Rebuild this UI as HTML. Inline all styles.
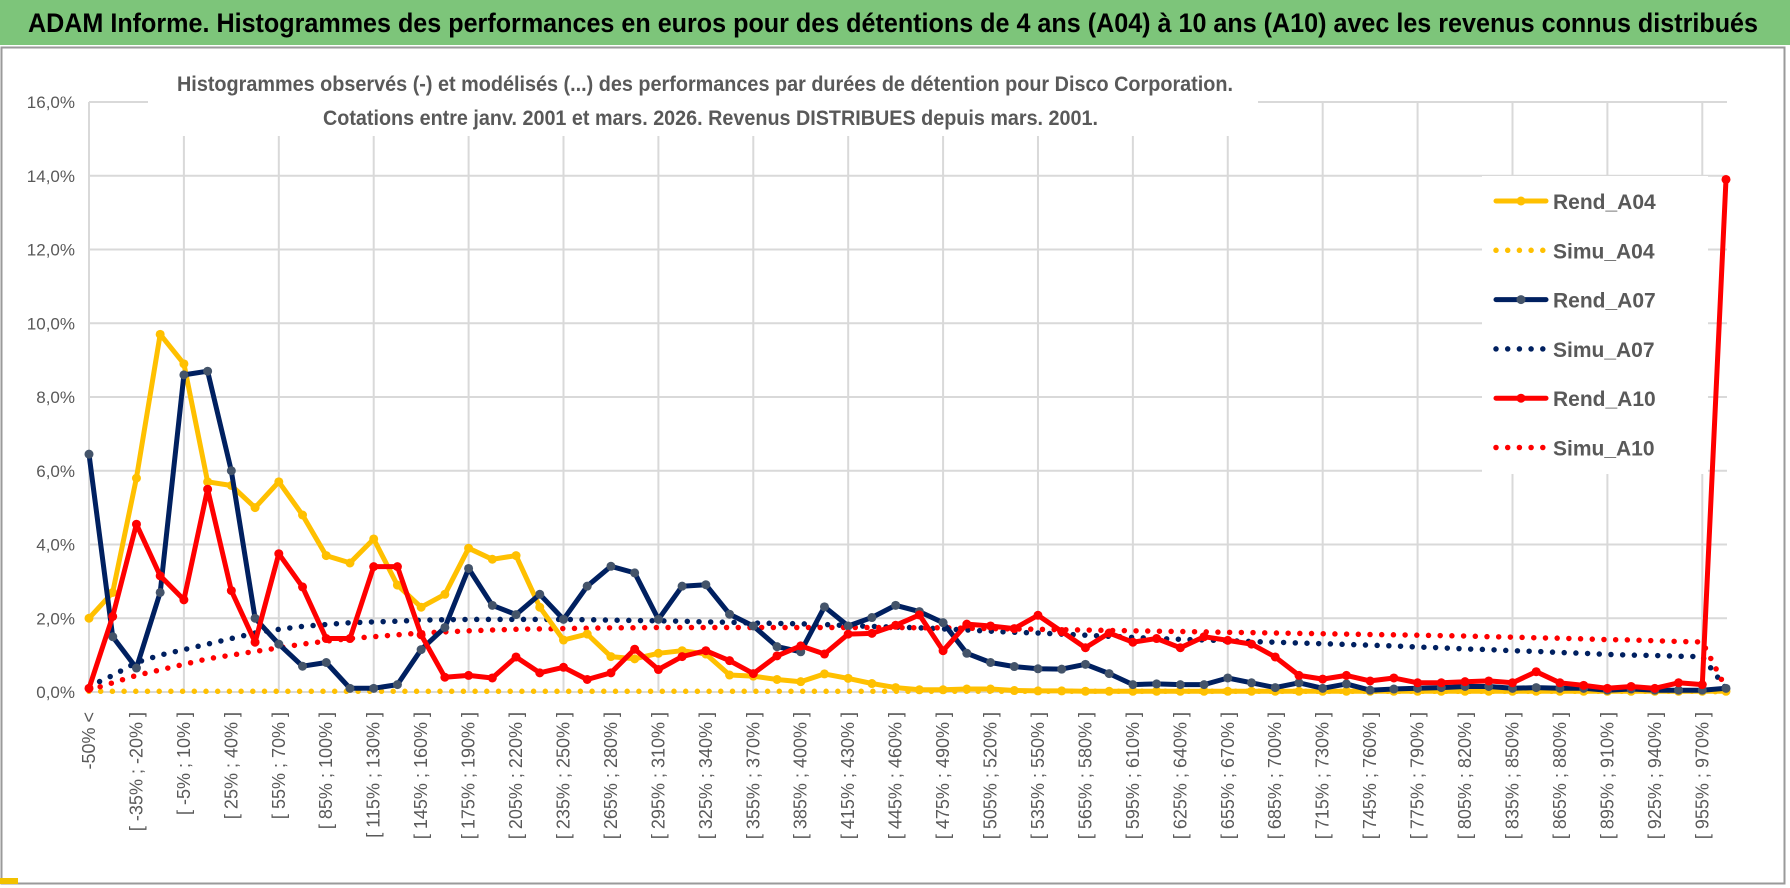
<!DOCTYPE html>
<html><head><meta charset="utf-8"><style>
html,body{margin:0;padding:0;background:#fff;}
svg{display:block;font-family:"Liberation Sans",sans-serif;}
</style></head><body>
<svg id="chart" width="1790" height="888" viewBox="0 0 1790 888" xmlns="http://www.w3.org/2000/svg">
<rect x="0" y="0" width="1790" height="45" fill="#7dc57a"/>
<text x="28" y="32" font-size="27" font-weight="bold" fill="#000" textLength="1730" lengthAdjust="spacingAndGlyphs">ADAM Informe. Histogrammes des performances en euros pour des détentions de 4 ans (A04) à 10 ans (A10) avec les revenus connus distribués</text>
<rect x="1.5" y="47.5" width="1783" height="836" fill="none" stroke="#9a9a9a" stroke-width="2"/>
<rect x="0" y="878" width="18" height="6" fill="#f2c100"/>
<rect x="1770" y="835" width="18" height="50" fill="none"/>
<g id="grid"></g>
<rect x="148" y="55" width="1110" height="81" fill="#fff"/>
<text x="177" y="91" font-size="21" font-weight="bold" fill="#595959" textLength="1056" lengthAdjust="spacingAndGlyphs">Histogrammes observés (-) et modélisés (...) des performances par durées de détention pour Disco Corporation.</text>
<text x="323" y="125" font-size="21" font-weight="bold" fill="#595959" textLength="775" lengthAdjust="spacingAndGlyphs">Cotations entre janv. 2001 et mars. 2026.  Revenus DISTRIBUES depuis mars. 2001.</text>
<g id="yaxis"></g>
<g id="xaxis"></g>
<g id="series"></g>
<g id="legend"></g>
</svg>
<script>
const yTicks = [0,2,4,6,8,10,12,14,16];
const yTickLabels = ["0,0%","2,0%","4,0%","6,0%","8,0%","10,0%","12,0%","14,0%","16,0%"];
const categories = [];
categories.push("-50% <");
for (let k = 1; k < 69; k++) { categories.push("[ " + (-65 + 15*k) + "% ; " + (-50 + 15*k) + "% ]"); }
categories.push("> 970%");
const rendA04 = [2.0,2.7,5.8,9.7,8.9,5.7,5.6,5.0,5.7,4.8,3.7,3.5,4.15,2.9,2.3,2.65,3.9,3.6,3.7,2.3,1.41,1.57,0.96,0.9,1.05,1.12,1.03,0.46,0.43,0.34,0.28,0.49,0.37,0.23,0.12,0.06,0.06,0.08,0.08,0.04,0.03,0.03,0.02,0.02,0.02,0.02,0.02,0.02,0.02,0.02,0.02,0.02,0.02,0.02,0.02,0.02,0.02,0.02,0.02,0.02,0.02,0.02,0.02,0.02,0.02,0.02,0.02,0.02,0.02,0.02];
const simuA04 = [0.02,0.02,0.02,0.02,0.02,0.02,0.02,0.02,0.02,0.02,0.02,0.02,0.02,0.02,0.02,0.02,0.02,0.02,0.02,0.02,0.02,0.02,0.02,0.02,0.02,0.02,0.02,0.02,0.02,0.02,0.02,0.02,0.02,0.02,0.02,0.02,0.02,0.02,0.02,0.02,0.02,0.02,0.02,0.02,0.02,0.02,0.02,0.02,0.02,0.02,0.02,0.02,0.02,0.02,0.02,0.02,0.02,0.02,0.02,0.02,0.02,0.02,0.02,0.02,0.02,0.02,0.02,0.02,0.02,0.0];
const rendA07 = [6.45,1.5,0.65,2.7,8.6,8.7,6.0,2.0,1.3,0.7,0.8,0.1,0.1,0.2,1.15,1.75,3.35,2.35,2.1,2.65,1.97,2.87,3.41,3.23,1.97,2.87,2.91,2.11,1.79,1.23,1.09,2.31,1.79,2.02,2.35,2.18,1.88,1.05,0.8,0.69,0.63,0.62,0.75,0.5,0.2,0.22,0.2,0.2,0.38,0.25,0.12,0.25,0.1,0.22,0.05,0.08,0.1,0.12,0.15,0.15,0.1,0.12,0.1,0.1,0.05,0.08,0.05,0.05,0.05,0.1];
const simuA07 = [0.15,0.45,0.8,1.0,1.15,1.3,1.45,1.6,1.7,1.78,1.83,1.88,1.9,1.92,1.95,1.96,1.97,1.97,1.97,1.97,1.97,1.96,1.95,1.94,1.93,1.92,1.9,1.89,1.87,1.86,1.85,1.83,1.8,1.78,1.76,1.74,1.71,1.68,1.65,1.62,1.6,1.57,1.54,1.51,1.48,1.45,1.43,1.41,1.39,1.37,1.35,1.33,1.31,1.29,1.27,1.25,1.22,1.2,1.17,1.15,1.12,1.1,1.07,1.05,1.02,1.0,0.99,0.97,0.96,0.1];
const rendA10 = [0.1,2.05,4.55,3.15,2.5,5.5,2.75,1.35,3.75,2.85,1.45,1.45,3.4,3.4,1.55,0.4,0.45,0.38,0.95,0.52,0.67,0.34,0.52,1.16,0.61,0.96,1.12,0.85,0.5,0.98,1.25,1.03,1.57,1.59,1.81,2.09,1.12,1.84,1.79,1.72,2.08,1.64,1.2,1.6,1.35,1.45,1.2,1.5,1.4,1.3,0.95,0.45,0.35,0.45,0.3,0.38,0.25,0.25,0.28,0.3,0.25,0.55,0.25,0.18,0.1,0.15,0.1,0.25,0.2,13.9];
const simuA10 = [0.05,0.25,0.45,0.6,0.75,0.9,1.0,1.1,1.2,1.3,1.38,1.45,1.5,1.55,1.6,1.63,1.66,1.68,1.7,1.71,1.72,1.73,1.74,1.74,1.75,1.75,1.75,1.75,1.75,1.75,1.75,1.75,1.75,1.75,1.75,1.74,1.74,1.73,1.72,1.71,1.7,1.69,1.68,1.67,1.66,1.65,1.64,1.63,1.62,1.61,1.6,1.59,1.58,1.57,1.56,1.55,1.54,1.53,1.52,1.5,1.49,1.47,1.46,1.44,1.42,1.41,1.39,1.37,1.36,0.1];
const seriesNames = ["Rend_A04","Simu_A04","Rend_A07","Simu_A07","Rend_A10","Simu_A10"];

const NS = "http://www.w3.org/2000/svg";
const X0 = 89, X1 = 1726, Y0 = 692, YTOP = 102, YMAX = 16;
function xs(i){ return X0 + i*(X1-X0)/(categories.length-1); }
function ys(v){ return Y0 - v*(Y0-YTOP)/YMAX; }
function mk(tag, attrs, parent){ const e=document.createElementNS(NS,tag); for(const k in attrs) e.setAttribute(k,attrs[k]); parent.appendChild(e); return e; }

const grid=document.getElementById('grid');
yTicks.forEach(function(t){
  const l=mk('line',{x1:X0,x2:X1+1,y1:ys(t),y2:ys(t),stroke:'#d9d9d9','stroke-width':2},grid);
  
  
});
for(let i=0;i<categories.length;i+=4){
  const l=mk('line',{x1:xs(i),x2:xs(i),y1:YTOP,y2:Y0,stroke:'#d9d9d9','stroke-width':2},grid);
  
  
}
const yaxis=document.getElementById('yaxis');
yTicks.forEach(function(t,k){
  const tx=mk('text',{x:75,y:ys(t)+6,'text-anchor':'end','font-size':17,fill:'#595959'},yaxis);
  tx.textContent=yTickLabels[k];
  
  
});
const xaxis=document.getElementById('xaxis');
for(let i=0;i<categories.length-1;i+=2){
  const x=xs(i)+6, y=712;
  const tx=mk('text',{x:x,y:y,'text-anchor':'end','font-size':18,fill:'#595959',transform:'rotate(-90 '+x+' '+y+')'},xaxis);
  tx.textContent=categories[i];
  
  
}
const series=document.getElementById('series');
function pts(arr){ return arr.map(function(v,i){return xs(i).toFixed(1)+','+ys(v).toFixed(1);}).join(' '); }
function dotted(arr,color,name){
  const p=mk('polyline',{points:pts(arr),fill:'none',stroke:color,'stroke-width':5.5,'stroke-linecap':'round','stroke-dasharray':'0 11.7'},series);
  
  
}
function solid(arr,color,mcolor,name){
  const g=mk('g',{},series);
  
  
  mk('polyline',{points:pts(arr),fill:'none',stroke:color,'stroke-width':5,'stroke-linejoin':'round'},g);
  arr.forEach(function(v,i){
    const c=mk('circle',{cx:xs(i),cy:ys(v),r:4.5,fill:mcolor},g);
    
    
  });
}
dotted(simuA04,'#ffc000','simu-a04-line');
dotted(simuA07,'#002060','simu-a07-line');
dotted(simuA10,'#ff0000','simu-a10-line');
solid(rendA04,'#ffc000','#ffc000','rend-a04-line');
solid(rendA07,'#002060','#44546a','rend-a07-line');
solid(rendA10,'#ff0000','#ff0000','rend-a10-line');

const legend=document.getElementById('legend');
const lbg=mk('rect',{x:1482,y:176,width:226,height:298,fill:'#fff'},legend);


const legendColors=['#ffc000','#ffc000','#002060','#002060','#ff0000','#ff0000'];
const legendMarker=['#ffc000','','#44546a','','#ff0000',''];
seriesNames.forEach(function(n,k){
  const y=201+k*49.3;
  const g=mk('g',{},legend);
  
  
  if(k%2===0){
    mk('line',{x1:1496,x2:1546,y1:y,y2:y,stroke:legendColors[k],'stroke-width':5,'stroke-linecap':'round'},g);
    mk('circle',{cx:1521,cy:y,r:4.5,fill:legendMarker[k]},g);
  } else {
    mk('line',{x1:1496,x2:1546,y1:y,y2:y,stroke:legendColors[k],'stroke-width':5.5,'stroke-linecap':'round','stroke-dasharray':'0 11.7'},g);
  }
  const t=mk('text',{x:1553,y:y+8,'font-size':21,'font-weight':'bold',fill:'#595959'},g);
  t.textContent=n;
});
</script>
</body></html>
